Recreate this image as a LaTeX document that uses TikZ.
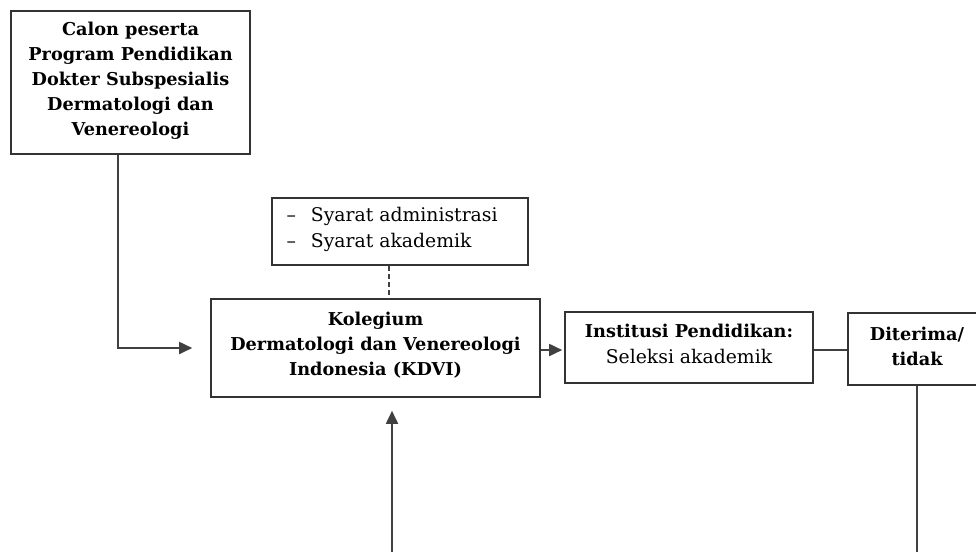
\documentclass[tikz,border=0pt]{standalone}
\usepackage{fontspec}
\setmainfont{DejaVu Serif}
\usetikzlibrary{arrows.meta}
\begin{document}
\begin{tikzpicture}[x=1pt,y=-1pt,
  box/.style={draw=black!80,line width=1.6pt,fill=white,inner sep=0pt,anchor=center},
  conn/.style={draw=black!75,line width=1.8pt},
  arr/.style={conn,-{Triangle[length=13pt,width=12pt]}},
  bt/.style={font=\fontsize{17.7}{25}\selectfont\bfseries,align=center},
  rt/.style={font=\fontsize{18.8}{26}\selectfont}]
\useasboundingbox (0,0) rectangle (976,552);
\clip (0,0) rectangle (976,552);
% boxes
\node[box,minimum width=239pt,minimum height=143pt] (calon) at (130.5,82.5) {};
\node[bt] (calont) at (130.5,81) {Calon peserta\\Program Pendidikan\\Dokter Subspesialis\\Dermatologi dan\\Venereologi};
\node[box,minimum width=256pt,minimum height=67pt] (syarat) at (400,231.5) {};
\node[rt,align=left,anchor=west] (syaratt) at (283,229) {--\hspace{15pt}Syarat administrasi\\--\hspace{15pt}Syarat akademik};
\node[box,minimum width=329pt,minimum height=98pt] (kdvi) at (375.5,348) {};
\node[bt] (kdvit) at (375.5,345) {Kolegium\\Dermatologi dan Venereologi\\Indonesia (KDVI)};
\node[box,minimum width=248pt,minimum height=71pt] (inst) at (689,347.5) {};
\node[rt,align=center] (instt) at (689,344) {\fontsize{17.7}{26}\selectfont\bfseries Institusi Pendidikan:\\\fontsize{18.8}{26}\selectfont\mdseries Seleksi akademik};
\node[box,minimum width=138pt,minimum height=72pt] (dit) at (917,349) {};
\node[bt] (ditt) at (917,346) {Diterima/\\tidak};
% free ends
\coordinate (c1) at (118,154);
\coordinate (d1) at (389,0);
\coordinate (u1) at (392,552);
\coordinate (v1) at (917,552);
\coordinate (h1) at (0,350);
% connectors
\draw[arr,shorten >=18pt] (calon.south -| c1) |- (kdvi.west);
\draw[conn,dashed,dash pattern=on 5pt off 3pt,line width=1.3pt] (syarat.south -| d1) -- (kdvi.north -| d1);
\draw[arr,shorten >=2pt] (kdvi.east |- h1) -- (inst.west |- h1);
\draw[conn] (inst.east |- h1) -- (dit.west |- h1);
\draw[arr,shorten >=13pt] (u1) -- (kdvi.south -| u1);
\draw[conn] (dit.south) -- (v1);
\end{tikzpicture}
\end{document}
